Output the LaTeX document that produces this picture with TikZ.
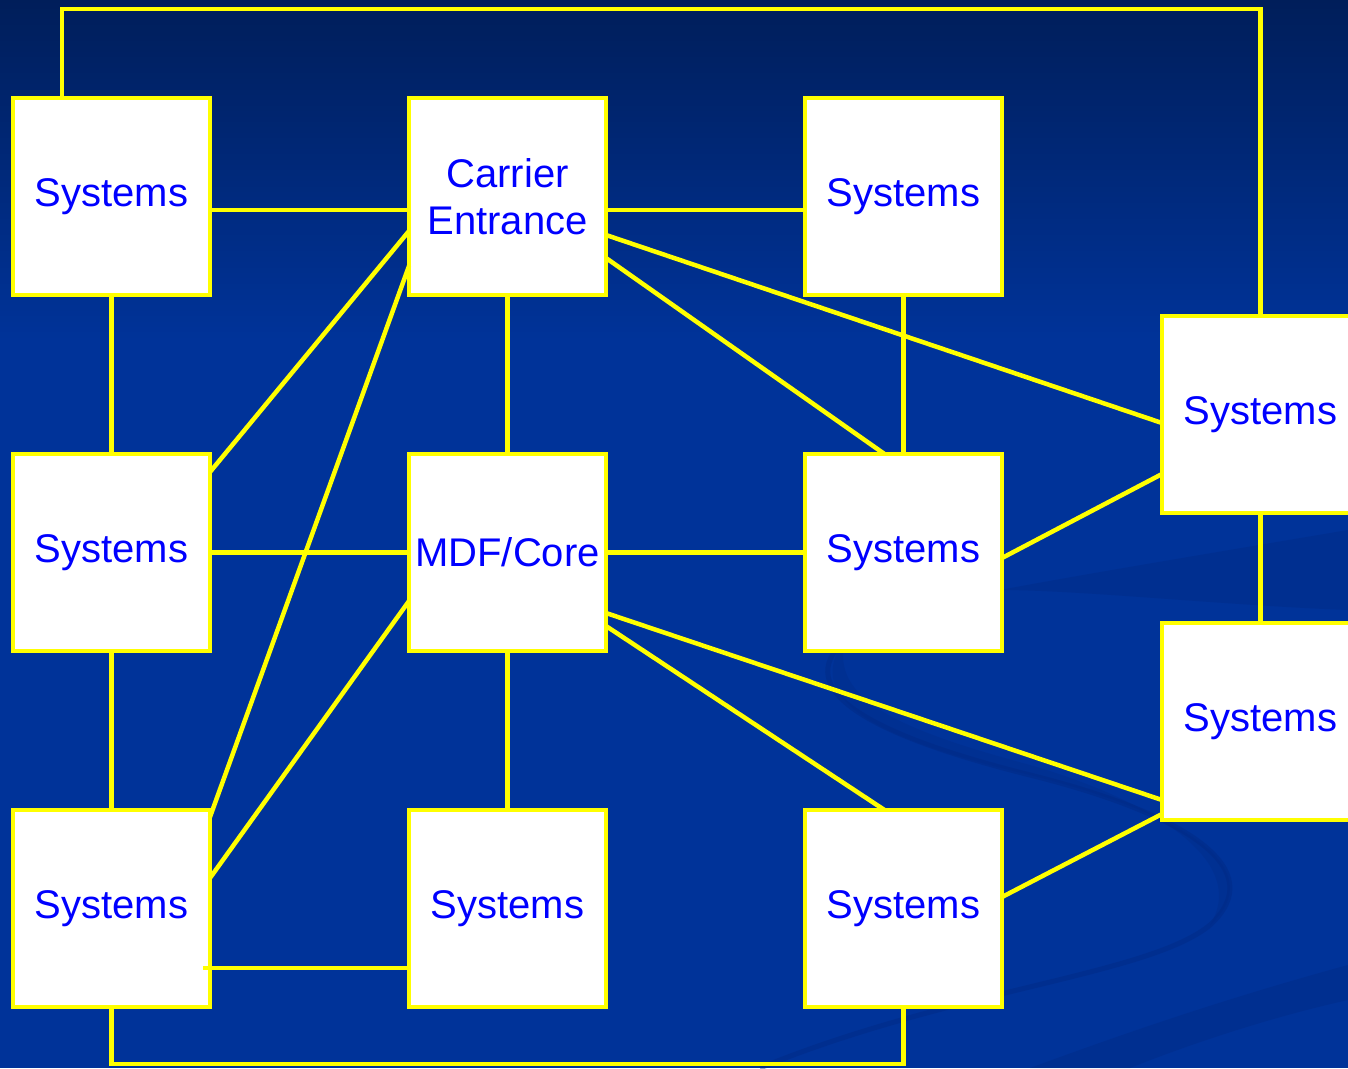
\documentclass[tikz,border=0pt]{standalone}
\usepackage{fontspec}
\setmainfont{Liberation Sans}
\usetikzlibrary{calc}
\definecolor{bgtop}{RGB}{0,30,90}
\definecolor{bgmain}{RGB}{0,51,153}
\definecolor{swoosh}{RGB}{0,40,128}
\definecolor{linkyellow}{RGB}{255,255,0}
\definecolor{labelblue}{RGB}{0,0,255}
\begin{document}
\begin{tikzpicture}[x=1pt,y=-1pt,
  sysbox/.style={draw=linkyellow,fill=white,line width=4.5pt,
    minimum width=197pt,minimum height=197pt,inner sep=0pt,outer sep=0pt,
    text=labelblue,font=\fontsize{40}{47}\selectfont,align=center},
  link/.style={draw=linkyellow,line width=4.5pt}]
% background
\useasboundingbox (0,0) rectangle (1348,1068);
\fill[bgmain] (0,0) rectangle (1348,1068);
\shade[top color=bgtop,bottom color=bgmain] (0,0) rectangle (1348,340);
% faint swooshes
\begin{scope}
\clip (0,0) rectangle (1348,1068);
\fill[swoosh,opacity=0.35] (1348,530) .. controls (1200,555) and (1080,575) .. (1000,590)
  .. controls (1080,590) and (1220,605) .. (1348,610) -- cycle;
\draw[swoosh,opacity=0.4,line width=5pt] (845,640) .. controls (790,690) and (870,735) .. (1030,775)
  .. controls (1190,815) and (1270,870) .. (1210,925)
  .. controls (1150,975) and (950,990) .. (760,1068);
\fill[swoosh,opacity=0.25] (845,640) .. controls (800,700) and (880,740) .. (1030,775)
  .. controls (1190,815) and (1270,870) .. (1210,925)
  .. controls (1250,860) and (1150,800) .. (1030,765)
  .. controls (900,730) and (830,700) .. (845,640) -- cycle;
\fill[swoosh,opacity=0.35] (1348,965) .. controls (1220,1000) and (1120,1035) .. (1030,1068)
  -- (1130,1068) .. controls (1200,1040) and (1280,1015) .. (1348,1000) -- cycle;
\end{scope}
% boxes
\node[sysbox] (s11) at (111.5,196.5) {Systems};
\node[sysbox] (ce)  at (507.5,196.5) {Carrier\\Entrance};
\node[sysbox] (s13) at (903.5,196.5) {Systems};
\node[sysbox] (s21) at (111.5,552.5) {Systems};
\node[sysbox] (mdf) at (507.5,552.5) {MDF/Core};
\node[sysbox] (s23) at (903.5,552.5) {Systems};
\node[sysbox] (s31) at (111.5,908.5) {Systems};
\node[sysbox] (s32) at (507.5,908.5) {Systems};
\node[sysbox] (s33) at (903.5,908.5) {Systems};
\node[sysbox] (rA)  at (1260.5,414.5) {Systems};
\node[sysbox] (rB)  at (1260.5,721.5) {Systems};
% outer loops
\draw[link] ($(s11.north)+(-49.5,0)$) -- ++(0,-89) -| (rA.north);
\draw[link] (s31.south) -- ++(0,57) -| (s33.south);
% grid links
\draw[link] ($(s11.east)+(0,13.5)$) -- ($(ce.west)+(0,13.5)$);
\draw[link] ($(ce.east)+(0,13.5)$) -- ($(s13.west)+(0,13.5)$);
\draw[link] (s11.south) -- (s21.north);
\draw[link] (ce.south) -- (mdf.north);
\draw[link] (s13.south) -- (s23.north);
\draw[link] (s21.east) -- (mdf.west);
\draw[link] (mdf.east) -- (s23.west);
\draw[link] (rA.south) -- (rB.north);
\draw[link] (mdf.south) -- (s32.north);
\draw[link] (s21.south) -- (s31.north);
\draw[link] ($(s31.east)+(-7,59.5)$) -- ($(s32.west)+(0,59.5)$);
% diagonal links
\draw[link] ($(ce.west)+(0,34.5)$) -- ($(s21.east)+(0,-80.5)$);
\draw[link] ($(ce.west)+(0,69.5)$) -- ($(s31.east)+(0,-91.5)$);
\draw[link] ($(ce.east)+(0,38.5)$) -- ($(rA.west)+(0,8.5)$);
\draw[link] ($(ce.east)+(0,61.5)$) -- ($(s23.north)+(-19,0)$);
\draw[link] ($(s23.east)+(0,5.5)$) -- ($(rA.west)+(0,59.5)$);
\draw[link] ($(mdf.west)+(0,48.5)$) -- ($(s31.east)+(0,-30.5)$);
\draw[link] ($(mdf.east)+(0,60.5)$) -- ($(rB.west)+(0,78.5)$);
\draw[link] ($(mdf.east)+(0,73.5)$) -- ($(s33.north)+(-19,0)$);
\draw[link] ($(s33.east)+(0,-11.5)$) -- ($(rB.west)+(0,92.5)$);
\end{tikzpicture}
\end{document}
